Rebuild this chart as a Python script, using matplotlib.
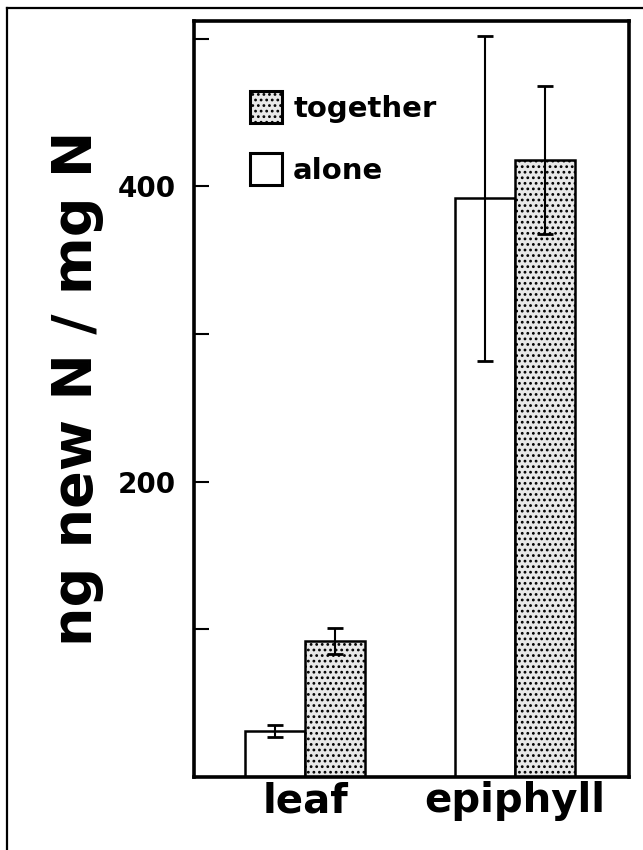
import matplotlib
matplotlib.use("Agg")
import matplotlib.pyplot as plt
from matplotlib.patches import Patch
from matplotlib.lines import Line2D
import numpy as np

# Data
groups = ["leaf", "epiphyll"]
alone_mean = [31, 392]
alone_err = [4, 110]
together_mean = [92, 418]
together_err = [9, 50]
ytick_values = [100, 200, 300, 400, 500]
ytick_labels = ["", "200", "", "400", ""]

plt.rcParams["font.family"] = ["DejaVu Sans"]
plt.rcParams["font.weight"] = "bold"
plt.rcParams["hatch.linewidth"] = 1.2
plt.rcParams["hatch.color"] = "#222222"

W, H = 643, 850
fig = plt.figure(figsize=(W / 100, H / 100), dpi=100)
fig.patch.set_facecolor("white")

ax = fig.add_axes([194 / W, (H - 777) / H, (629 - 194) / W, (777 - 21) / H])

x = np.arange(len(groups))
width = 0.286
edge_lw = 1.8
err_kw = dict(elinewidth=1.5, capthick=2.0, capsize=6, ecolor="black")

ax.bar(x - width / 2, alone_mean, width, color="white", edgecolor="black",
       linewidth=edge_lw, yerr=alone_err, error_kw=err_kw, label="alone", zorder=2)
ax.bar(x + width / 2, together_mean, width, color="#e8e8e8", edgecolor="black",
       linewidth=edge_lw, hatch="...", yerr=together_err, error_kw=err_kw,
       label="together", zorder=2)

ax.set_xlim(-0.529, 1.543)
ax.set_ylim(0, 512)

ax.set_xticks(x)
ax.set_xticklabels(groups, fontsize=29, fontweight="bold")
ax.tick_params(axis="x", length=0, pad=3)

ax.set_yticks(ytick_values)
ax.set_yticklabels(ytick_labels, fontsize=20, fontweight="bold")
ax.tick_params(axis="y", direction="in", length=11, width=1.5, pad=13)

for side in ["left", "right", "top", "bottom"]:
    ax.spines[side].set_linewidth(2.6)

fig.text(77 / W, 1 - 388 / H, "ng new N / mg N", rotation=90, ha="center",
         va="center", fontsize=40, fontweight="bold")

handles = [
    Patch(facecolor="#e8e8e8", edgecolor="black", hatch="...", linewidth=2.2),
    Patch(facecolor="white", edgecolor="black", linewidth=2.2),
]
ax.legend(handles, ["together", "alone"], loc="upper left",
          bbox_to_anchor=(250 / W, 1 - 91 / H), bbox_transform=fig.transFigure,
          frameon=False, prop=dict(size=21, weight="bold"), borderpad=0,
          borderaxespad=0, handlelength=1.1, handleheight=1.3,
          handletextpad=0.38, labelspacing=1.05)

# page frame along the top and left edges
fig.add_artist(Line2D([7 / W, 1], [1 - 8 / H, 1 - 8 / H], color="black",
                      linewidth=1.6, transform=fig.transFigure))
fig.add_artist(Line2D([7 / W, 7 / W], [0, 1 - 8 / H], color="black",
                      linewidth=1.6, transform=fig.transFigure))

fig.savefig("out.png", dpi=100, facecolor="white")
